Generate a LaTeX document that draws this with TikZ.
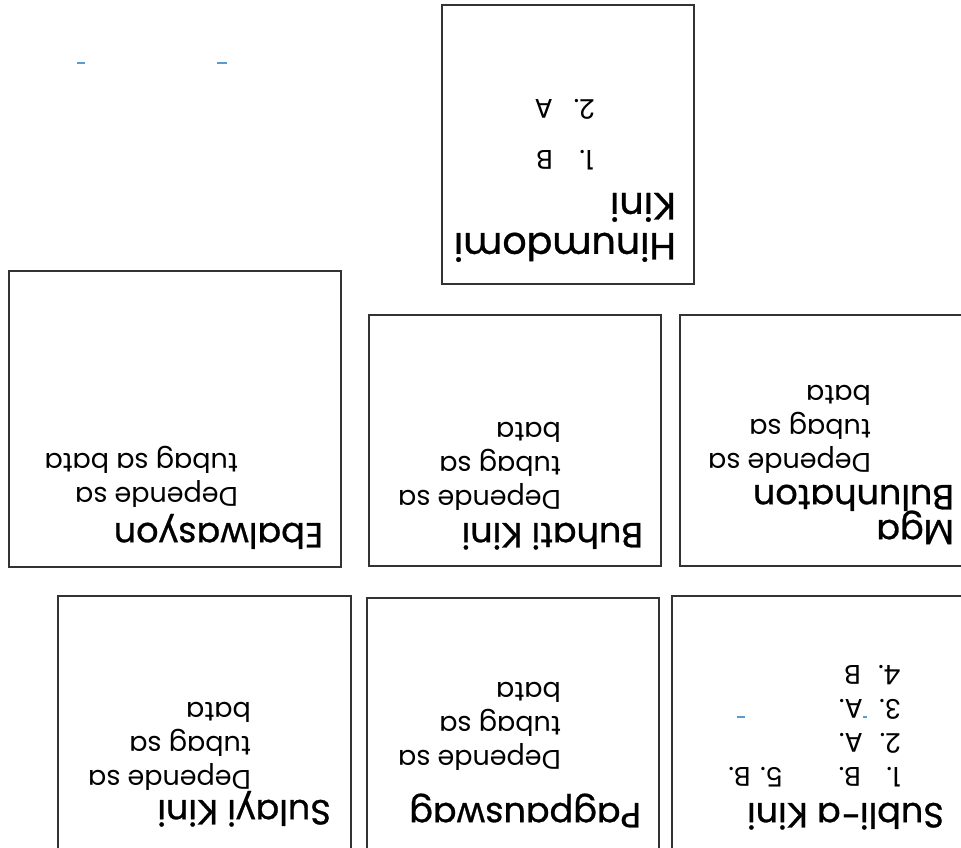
\documentclass[tikz,border=0pt]{standalone}
\usepackage{fontspec}
\setmainfont{Poppins}
\newfontfamily\ttlfont[FakeBold=0.8]{Poppins}
\definecolor{tickblue}{HTML}{5B9BD5}
\definecolor{cardline}{HTML}{333333}
\begin{document}
\begin{tikzpicture}[x=1pt,y=-1pt,
  card/.style={draw=cardline,line width=1.3pt},
  ttl/.style={rotate=180,anchor=base west,inner sep=0pt,font=\ttlfont\fontsize{35}{40}\selectfont},
  bigttl/.style={rotate=180,anchor=base west,inner sep=0pt,font=\ttlfont\fontsize{38}{44}\selectfont},
  txt/.style={rotate=180,anchor=base west,inner sep=0pt,font=\fontsize{27}{32}\selectfont},
  tickmark/.style={draw=tickblue,line width=2pt}]
\useasboundingbox (0,0) rectangle (961,848);
\clip (0,0) rectangle (961,848);

% cards
\draw[card] (442,5) rectangle (694,284);
\draw[card] (9,271) rectangle (341,567);
\draw[card] (369,315) rectangle (661,566);
\draw[card] (680,315) rectangle (975,566);
\draw[card] (58,596) rectangle (351,870);
\draw[card] (367,598) rectangle (659,870);
\draw[card] (672,596) rectangle (975,870);

% Hinumdomi
\node[bigttl] (h1) at (676,233) {Hinumdomi};
\node[bigttl] (h2) at (676,193) {Kini};
\node[txt] (h3) at (594,150) {1.};
\node[txt] (h4) at (553,150) {B};
\node[txt] (h5) at (595,100) {2.};
\node[txt] (h6) at (553,100) {A};

% Ebalwasyon
\node[ttl] (e1) at (323,523) {Ebalwasyon};
\node[txt] (e2) at (238,487) {Depende sa};
\node[txt] (e3) at (238,453) {tubag sa bata};

% Buhati Kini
\node[ttl] (b1) at (643,523) {Buhati Kini};
\node[txt] (b2) at (561,490) {Depende sa};
\node[txt] (b3) at (561,456) {tubag sa};
\node[txt] (b4) at (561,422) {bata};

% Mga Bulunhaton
\node[ttl] (m1) at (954,520) {Mga};
\node[ttl] (m2) at (954,485) {Bulunhaton};
\node[txt] (m3) at (871,453) {Depende sa};
\node[txt] (m4) at (871,419) {tubag sa};
\node[txt] (m5) at (871,385) {bata};

% Sulayi Kini
\node[ttl] (s1) at (331,800) {Sulayi Kini};
\node[txt] (s2) at (251,770) {Depende sa};
\node[txt] (s3) at (251,736) {tubag sa};
\node[txt] (s4) at (251,702) {bata};

% Pagpauswag
\node[ttl] (p1) at (641,803) {Pagpauswag};
\node[txt] (p2) at (561,750) {Depende sa};
\node[txt] (p3) at (561,716) {tubag sa};
\node[txt] (p4) at (561,682) {bata};

% Subli-a Kini
\node[ttl] (u1) at (944,803) {Subli-a Kini};
\node[txt] (u2) at (901,767) {1.};
\node[txt] (u3) at (861,767) {B.};
\node[txt] (u4) at (783,767) {5. B.};
\node[txt] (u5) at (901,733) {2.};
\node[txt] (u6) at (863,733) {A.};
\node[txt] (u7) at (901,699) {3.};
\node[txt] (u8) at (863,699) {A.};
\node[txt] (u9) at (901,665) {4.};
\node[txt] (u10) at (861,665) {B};

% small blue marks
\coordinate (t1a) at (77,63);  \coordinate (t1b) at (85,63);
\coordinate (t2a) at (217,63); \coordinate (t2b) at (227,63);
\coordinate (t3a) at (737,717); \coordinate (t3b) at (745,717);
\coordinate (t4a) at (863,717); \coordinate (t4b) at (867,717);
\draw[tickmark] (t1a) -- (t1b);
\draw[tickmark] (t2a) -- (t2b);
\draw[tickmark] (t3a) -- (t3b);
\draw[tickmark] (t4a) -- (t4b);
\end{tikzpicture}
\end{document}
